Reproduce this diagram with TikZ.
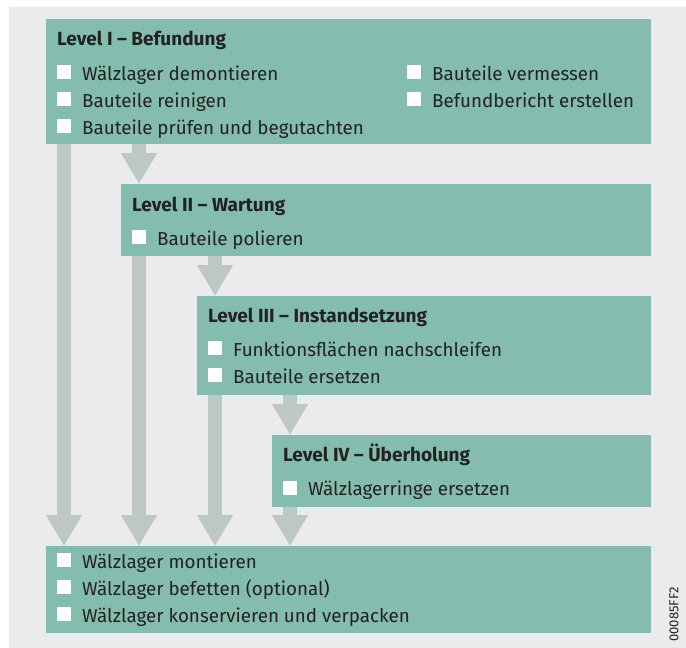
\documentclass[tikz,border=0pt]{standalone}
\usepackage{fontspec}
\setmainfont{Fira Sans}
\usetikzlibrary{arrows.meta}
\definecolor{bggray}{HTML}{EBEBED}
\definecolor{boxteal}{HTML}{84BCAD}
\definecolor{arrgray}{HTML}{BDC7C5}
\definecolor{txtdark}{HTML}{222222}
\newcommand\ChkItem[4]{%
  \node[chk] (#1-box) at (#2,#3) {};
  \node[item] (#1) at (#2+25,#3) {#4};}
\begin{document}
\begin{tikzpicture}[x=1pt,y=-1pt,
  panel/.style={fill=boxteal, draw=none, anchor=north west, inner sep=0pt, outer sep=0pt},
  head/.style={anchor=base west, inner sep=0pt, font=\fontsize{19}{22}\selectfont\bfseries, text=txtdark},
  item/.style={anchor=base west, inner sep=0pt, font=\fontsize{18.8}{22}\selectfont, text=txtdark},
  chk/.style={fill=white, draw=none, anchor=south west, minimum size=14pt, inner sep=0pt, yshift=0.5pt},
  fat/.style={draw=arrgray, line width=14pt, -{Triangle[width=34pt,length=31pt]}}]
\useasboundingbox (0,0) rectangle (686,648);
\fill[bggray] (9,7) rectangle (686,648);

% panels
\node[panel, minimum width=605pt, minimum height=125pt] (b1) at (46,19) {};
\node[panel, minimum width=530pt, minimum height=72pt] (b2) at (121,184) {};
\node[panel, minimum width=454pt, minimum height=99pt] (b3) at (197,296) {};
\node[panel, minimum width=379pt, minimum height=72pt] (b4) at (272,435) {};
\node[panel, minimum width=605pt, minimum height=87pt] (b5) at (46,546) {};

% texts box I
\node[head] (h1) at (57,45) {Level I – Befundung};
\ChkItem{i1}{57}{80}{Wälzlager demontieren}
\ChkItem{i2}{57}{107}{Bauteile reinigen}
\ChkItem{i3}{57}{134}{Bauteile prüfen und begutachten}
\ChkItem{i4}{407}{80}{Bauteile vermessen}
\ChkItem{i5}{407}{107}{Befundbericht erstellen}
% box II
\node[head] (h2) at (132,211) {Level II – Wartung};
\ChkItem{i6}{132}{245}{Bauteile polieren}
% box III
\node[head] (h3) at (208,322) {Level III – Instandsetzung};
\ChkItem{i7}{208}{356}{Funktionsflächen nachschleifen}
\ChkItem{i8}{208}{383}{Bauteile ersetzen}
% box IV
\node[head] (h4) at (283,461) {Level IV – Überholung};
\ChkItem{i9}{283}{495.5}{Wälzlagerringe ersetzen}
% bottom
\ChkItem{i10}{57}{568}{Wälzlager montieren}
\ChkItem{i11}{57}{595}{Wälzlager befetten (optional)}
\ChkItem{i12}{57}{622}{Wälzlager konservieren und verpacken}

% arrows between panels
\draw[fat] ([xshift=18pt]b1.south west) -- ([xshift=18pt]b1.south west |- b5.north);
\draw[fat] ([xshift=18pt]b2.south west) -- ([xshift=18pt]b2.south west |- b5.north);
\draw[fat] ([xshift=18pt]b3.south west) -- ([xshift=18pt]b3.south west |- b5.north);
\draw[fat] ([xshift=18pt]b4.south west) -- ([xshift=18pt]b4.south west |- b5.north);
\draw[fat] ([xshift=18pt]b2.south west |- b1.south) -- ([xshift=18pt]b2.north west);
\draw[fat] ([xshift=18pt]b3.south west |- b2.south) -- ([xshift=18pt]b3.north west);
\draw[fat] ([xshift=18pt]b4.south west |- b3.south) -- ([xshift=18pt]b4.north west);

\node[rotate=90, inner sep=0pt, font=\fontsize{13}{15}\selectfont, text=txtdark] (code) at (674,614.5) {00085FF2};
\end{tikzpicture}
\end{document}
